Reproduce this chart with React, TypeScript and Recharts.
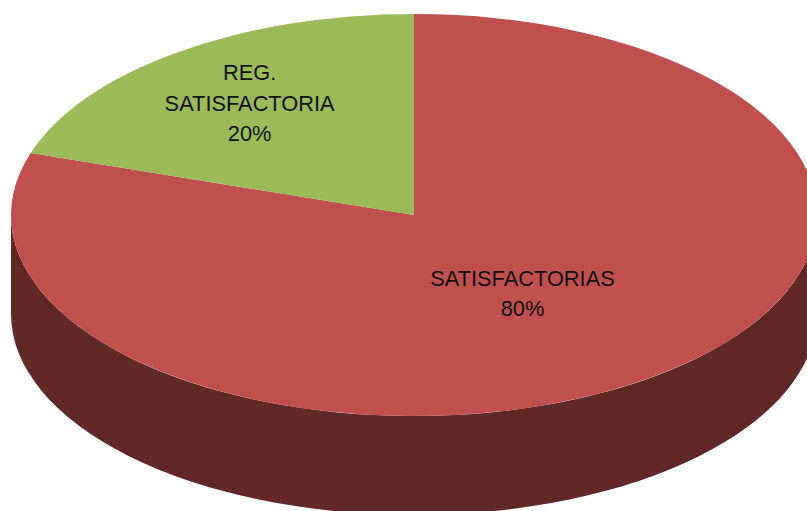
import React from "react";
import { PieChart, Pie, Cell, Sector } from "recharts";

const categories = ["SATISFACTORIAS", "REG. SATISFACTORIA"];
const shares = [80, 20];
const topColors = ["#C0504D", "#9BBB59"];
const wallColors = ["#602826", "#4F6228"];
const labelLines = [["SATISFACTORIAS", "80%"], ["REG.", "SATISFACTORIA", "20%"]];
// Horizontal and vertical caption distance from the centre, as fractions of the radius.
const labelOffsets = [[0.458, 0.483], [0.694, 0.686]];

const WIDTH = 807;
const HEIGHT = 511;
const CX = 414;
const CY = 215;
const RADIUS = 403;
const TILT = 201 / 403;
const DEPTH = 99;

const chartData = categories.map((name, i) => ({
  name,
  value: shares[i],
  labelLines: labelLines[i],
  labelOffset: labelOffsets[i],
}));

const rad = (deg: number) => (deg * Math.PI) / 180;

// Flattens a circular sector into the elliptical top face of the disc.
function TopFace(props: any) {
  const { cx, cy } = props;
  return (
    <g transform={`translate(${cx} ${cy}) scale(1 ${TILT}) translate(${-cx} ${-cy})`}>
      <Sector {...props} />
    </g>
  );
}

// Draws the visible front wall for the part of a sector facing the viewer.
function SideWall(props: any) {
  const { cx, cy, outerRadius, startAngle, endAngle, fill } = props;
  const lo = Math.min(startAngle, endAngle);
  const hi = Math.max(startAngle, endAngle);
  const ry = outerRadius * TILT;
  const spans: [number, number][] = [];
  for (const [a, b] of [[-180, 0], [180, 360]] as [number, number][]) {
    const s = Math.max(lo, a);
    const e = Math.min(hi, b);
    if (e > s) spans.push([s, e]);
  }
  return (
    <g>
      {spans.map(([s, e], i) => {
        const x1 = cx + outerRadius * Math.cos(rad(s));
        const y1 = cy - ry * Math.sin(rad(s));
        const x2 = cx + outerRadius * Math.cos(rad(e));
        const y2 = cy - ry * Math.sin(rad(e));
        const d = `M${x1} ${y1}A${outerRadius} ${ry} 0 0 0 ${x2} ${y2}L${x2} ${y2 + DEPTH}A${outerRadius} ${ry} 0 0 1 ${x1} ${y1 + DEPTH}Z`;
        return <path key={i} d={d} fill={fill} />;
      })}
    </g>
  );
}

// Multi-line slice caption placed along the slice's mid-angle on the flattened disc.
function SliceLabel(props: any) {
  const { cx, cy, midAngle, payload } = props;
  const lines: string[] = payload.labelLines;
  const [fx, fy] = payload.labelOffset;
  const x = cx + fx * RADIUS * Math.cos(rad(midAngle));
  const y = cy - fy * RADIUS * TILT * Math.sin(rad(midAngle));
  const lineHeight = 30.5;
  const top = y - ((lines.length - 1) * lineHeight) / 2;
  return (
    <text textAnchor="middle" fontFamily="Liberation Sans, Arial, sans-serif" fontSize={21.8} fill="#111">
      {lines.map((line, i) => (
        <tspan key={i} x={x} y={top + i * lineHeight + 7.5}>{line}</tspan>
      ))}
    </text>
  );
}

export default function App() {
  return (
    <div style={{ position: "absolute", left: 0, top: 0, width: WIDTH, height: HEIGHT, overflow: "hidden", background: "#fff" }}>
      <PieChart width={WIDTH} height={HEIGHT} margin={{ top: 0, right: 0, bottom: 0, left: 0 }}>
        <Pie
          data={chartData}
          dataKey="value"
          cx={CX}
          cy={CY}
          outerRadius={RADIUS}
          startAngle={90}
          endAngle={-270}
          stroke="none"
          shape={SideWall}
          isAnimationActive={false}
          legendType="none"
        >
          {chartData.map((d, i) => <Cell key={d.name} fill={wallColors[i]} />)}
        </Pie>
        <Pie
          data={chartData}
          dataKey="value"
          cx={CX}
          cy={CY}
          outerRadius={RADIUS}
          startAngle={90}
          endAngle={-270}
          stroke="none"
          shape={TopFace}
          label={SliceLabel}
          labelLine={false}
          isAnimationActive={false}
          legendType="none"
        >
          {chartData.map((d, i) => <Cell key={d.name} fill={topColors[i]} />)}
        </Pie>
      </PieChart>
    </div>
  );
}
